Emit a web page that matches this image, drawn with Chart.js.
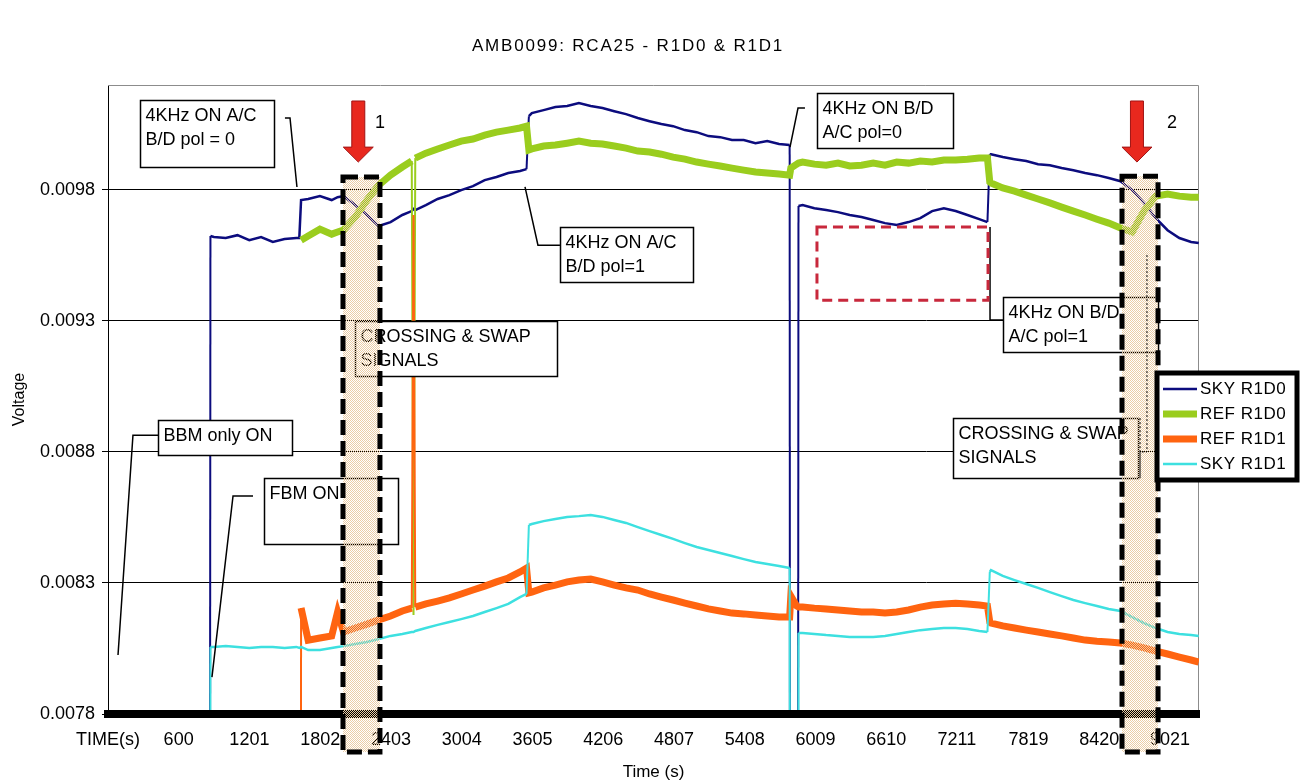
<!DOCTYPE html>
<html>
<head>
<meta charset="utf-8">
<title>AMB0099: RCA25 - R1D0 & R1D1</title>
<script src="https://cdn.jsdelivr.net/npm/chart.js@4.4.1/dist/chart.umd.min.js"></script>
<style>
  html, body { margin: 0; padding: 0; background: #fff; }
  #wrap { width: 1304px; height: 783px; }
</style>
</head>
<body>
<div id="wrap"><canvas id="myChart" width="1304" height="783"></canvas></div>
<script>
const chartTitle = "AMB0099: RCA25 - R1D0 & R1D1";
const FONT = '"Liberation Sans", Arial, sans-serif';

// time stamps (s)
const times = [
    0, 100, 200, 300, 400, 500, 600, 700, 800,
    855, 870,
    900, 1000, 1100, 1200, 1300, 1400, 1500, 1600,
    1625, 1640,
    1700, 1800, 1900, 1950,
    2000, 2100, 2200, 2300, 2400, 2500,
    2580, 2595, 2610,
    2700, 2800, 2900, 3000, 3100, 3200, 3300, 3400, 3500,
    3555, 3575,
    3600, 3700, 3800, 3900, 4000, 4100, 4200, 4300, 4400, 4500, 4600,
    4700, 4800, 4900, 5000, 5100, 5200, 5300, 5400, 5500, 5600, 5700,
    5790, 5800, 5850, 5865,
    5900, 6000, 6100, 6200, 6300, 6400, 6500, 6600, 6700, 6800, 6900, 7000, 7100, 7200, 7300, 7400,
    7470, 7490,
    7500, 7600, 7700, 7800, 7900, 8000, 8100, 8200, 8300,
    8400, 8500, 8600, 8700, 8800, 8900, 9000, 9100, 9200, 9265
];

const skyR1D0 = [
    0, 0, 0, 0, 0, 0, 0, 0, 0,
    0, 0.009624,
    0.009620, 0.009616, 0.009627, 0.009608, 0.009620, 0.009601, 0.009612, 0.009616,
    0.009616, 0.009761,
    0.009765, 0.009776, 0.009761, 0.009772,
    0.009776, 0.009742, 0.009704, 0.009662, 0.009677, 0.009704,
    0.009719, 0.009727, 0.009723,
    0.009742, 0.009765, 0.009780, 0.009799, 0.009814, 0.009837, 0.009849, 0.009864, 0.009872,
    0.009879, 0.010081,
    0.010093, 0.010104, 0.010116, 0.010120, 0.010131, 0.010120, 0.010112, 0.010100, 0.010089, 0.010074, 0.010062,
    0.010051, 0.010043, 0.010028, 0.010020, 0.010005, 0.010001, 0.009990, 0.009990, 0.009978, 0.009986, 0.009975,
    0.009971, 0, 0, 0.009738,
    0.009742, 0.009730, 0.009723, 0.009715, 0.009704, 0.009696, 0.009685, 0.009673, 0.009666, 0.009677, 0.009692, 0.009719, 0.009730, 0.009719, 0.009704, 0.009688,
    0.009677, 0.009936,
    0.009936, 0.009925, 0.009917, 0.009910, 0.009898, 0.009894, 0.009883, 0.009875, 0.009864,
    0.009856, 0.009845, 0.009833, 0.009799, 0.009750, 0.009692, 0.009646, 0.009616, 0.009601, 0.009597
];

const refR1D0 = [
    null, null, null, null, null, null, null, null, null,
    null, null,
    null, null, null, null, null, null, null, null,
    null, 0.009608,
    0.009624, 0.009650, 0.009631, 0.009639,
    0.009647, 0.009696, 0.009761, 0.009818, 0.009856, 0.009887,
    0.009910, 0.008178, 0.009921,
    0.009940, 0.009956, 0.009971, 0.009986, 0.009994, 0.010009, 0.010020, 0.010028, 0.010036,
    0.010043, 0.009952,
    0.009956, 0.009967, 0.009971, 0.009978, 0.009986, 0.009978, 0.009975, 0.009967, 0.009959, 0.009948, 0.009944,
    0.009936, 0.009925, 0.009917, 0.009906, 0.009898, 0.009891, 0.009883, 0.009875, 0.009868, 0.009864, 0.009860,
    0.009856, 0.009883, 0.009898, 0.009902,
    0.009906, 0.009898, 0.009894, 0.009902, 0.009891, 0.009894, 0.009902, 0.009894, 0.009906, 0.009902, 0.009910, 0.009906, 0.009914, 0.009914, 0.009917, 0.009921,
    0.009921, 0.009830,
    0.009826, 0.009807, 0.009795, 0.009780, 0.009765, 0.009750, 0.009734, 0.009719, 0.009704,
    0.009688, 0.009673, 0.009654, 0.009639, 0.009719, 0.009776, 0.009784, 0.009776, 0.009772, 0.009772
];

const refR1D1 = [
    0, 0, 0, 0, 0, 0, 0, 0, 0,
    0, 0,
    0, 0, 0, 0, 0, 0, 0, 0,
    0, 0.008204,
    0.008082, 0.008090, 0.008098, 0.008189,
    0.008113, 0.008128, 0.008143, 0.008159, 0.008174, 0.008193,
    0.008204, 0.009704, 0.008208,
    0.008220, 0.008231, 0.008243, 0.008258, 0.008273, 0.008288, 0.008304, 0.008319, 0.008342,
    0.008357, 0.008262,
    0.008265, 0.008281, 0.008292, 0.008304, 0.008311, 0.008315, 0.008304, 0.008292, 0.008281, 0.008273, 0.008258,
    0.008246, 0.008235, 0.008223, 0.008212, 0.008201, 0.008193, 0.008185, 0.008182, 0.008178, 0.008174, 0.008170,
    0.008170, 0.008250, 0.008212, 0.008208,
    0.008208, 0.008204, 0.008201, 0.008197, 0.008193, 0.008189, 0.008189, 0.008185, 0.008189, 0.008197, 0.008208, 0.008216, 0.008220, 0.008223, 0.008220, 0.008216,
    0.008212, 0.008151,
    0.008147, 0.008136, 0.008128, 0.008120, 0.008113, 0.008105, 0.008098, 0.008090, 0.008082,
    0.008078, 0.008075, 0.008071, 0.008063, 0.008052, 0.008040, 0.008029, 0.008017, 0.008006, 0.007998
];

const skyR1D1 = [
    0, 0, 0, 0, 0, 0, 0, 0, 0,
    0, 0.008056,
    0.008056, 0.008059, 0.008056, 0.008052, 0.008056, 0.008056, 0.008052, 0.008056,
    0.008052, 0.008056,
    0.008044, 0.008044, 0.008052, 0.008056,
    0.008059, 0.008067, 0.008075, 0.008086, 0.008098, 0.008105,
    0.008113, 0.008113, 0.008117,
    0.008128, 0.008140, 0.008151, 0.008162, 0.008174, 0.008189, 0.008204, 0.008220, 0.008246,
    0.008258, 0.008521,
    0.008525, 0.008536, 0.008544, 0.008552, 0.008555, 0.008559, 0.008552, 0.008540, 0.008529, 0.008513, 0.008498,
    0.008483, 0.008468, 0.008452, 0.008437, 0.008426, 0.008414, 0.008403, 0.008391, 0.008380, 0.008372, 0.008365,
    0.008357, 0, 0, 0.008109,
    0.008109, 0.008105, 0.008101, 0.008098, 0.008094, 0.008094, 0.008094, 0.008098, 0.008105, 0.008113, 0.008120, 0.008124, 0.008128, 0.008128, 0.008124, 0.008117,
    0.008113, 0.008342,
    0.008349, 0.008327, 0.008311, 0.008296, 0.008281, 0.008265, 0.008250, 0.008235, 0.008223,
    0.008212, 0.008201, 0.008193, 0.008170, 0.008147, 0.008128, 0.008113, 0.008105, 0.008101, 0.008098
];

const xTickValues = [0, 600, 1201, 1802, 2403, 3004, 3605, 4206, 4807, 5408, 6009, 6610, 7211, 7819, 8420, 9021];
const xTickLabels = ["TIME(s)", "600", "1201", "1802", "2403", "3004", "3605", "4206", "4807", "5408", "6009", "6610", "7211", "7819", "8420", "9021"];
const yTickValues = [0.0078, 0.0083, 0.0088, 0.0093, 0.0098];

// annotation boxes, in data units (time, voltage)
const calloutBoxes = [
    { text: ["4KHz ON A/C", "B/D pol = 0"], t0: 272, t1: 1410, v0: 0.010142, v1: 0.009887 },
    { text: ["4KHz ON A/C", "B/D pol=1"], t0: 3839, t1: 4969, v0: 0.009658, v1: 0.009448 },
    { text: ["4KHz ON B/D", "A/C pol=0"], t0: 6022, t1: 7177, v0: 0.010169, v1: 0.009959 },
    { text: ["4KHz ON B/D", "A/C pol=1"], t0: 7602, t1: 8919, v0: 0.009391, v1: 0.009181 },
    { text: ["CROSSING & SWAP", "SIGNALS"], t0: 2098, t1: 3814, v0: 0.009299, v1: 0.009090 },
    { text: ["CROSSING & SWAP", "SIGNALS"], t0: 7177, t1: 8749, v0: 0.008929, v1: 0.008700 },
    { text: ["BBM only ON"], t0: 425, t1: 1563, v0: 0.008922, v1: 0.008788 },
    { text: ["FBM ON"], t0: 1325, t1: 2463, v0: 0.008700, v1: 0.008449 }
];
const leaderLines = [
    [[1503, 0.010074], [1546, 0.010074], [1605, 0.009811]],
    [[3839, 0.009589], [3652, 0.009589], [3542, 0.009811]],
    [[5920, 0.010112], [5861, 0.010112], [5793, 0.009963]],
    [[7602, 0.009303], [7492, 0.009303], [7492, 0.009658]],
    [[425, 0.008864], [212, 0.008864], [85, 0.008025]],
    [[1232, 0.008632], [1062, 0.008632], [883, 0.007941]]
];
const dottedLeader = [[8766, 0.008929], [8766, 0.008700], [8766, 0.008800], [8825, 0.008800], [8825, 0.009559]];
const redBox = { t0: 6022, t1: 7475, v0: 0.009658, v1: 0.009379 };
const crossings = [
    { t0: 1996, t1: 2310, v0: 0.009849, v1: 0.007655 },
    { t0: 8613, t1: 8919, v0: 0.009852, v1: 0.007655 }
];
const arrows = [
    { t: 2126, label: "1", labelT: 2310 },
    { t: 8740, label: "2", labelT: 9038 }
];
const arrowTop = 0.010139, arrowNeck = 0.009963, arrowTip = 0.009906, arrowLabelV = 0.010055;

function pts(values) {
    return times.map((t, i) => ({ x: t, y: values[i] }));
}

// long vertical steps are drawn thin, like the original
const thinSteps = { borderWidth: c => Math.abs(c.p1.y - c.p0.y) > 40 ? 2 : undefined };

// checker pattern for the crossing zones
function checker() {
    const pc = document.createElement("canvas");
    pc.width = 2; pc.height = 2;
    const p = pc.getContext("2d");
    p.fillStyle = "#ebcda6";
    p.fillRect(0, 0, 1, 1);
    p.fillRect(1, 1, 1, 1);
    return pc;
}

const annotations = {
    id: "annotations",
    beforeDatasetsDraw(chart) {
        const { ctx, chartArea: a } = chart;
        ctx.save();
        ctx.strokeStyle = "#8c8c8c";
        ctx.lineWidth = 1;
        ctx.beginPath();
        ctx.moveTo(a.left, a.top + 0.5);
        ctx.lineTo(a.right - 0.5, a.top + 0.5);
        ctx.lineTo(a.right - 0.5, a.bottom);
        ctx.stroke();
        ctx.restore();
    },
    afterDraw(chart) {
        const ctx = chart.ctx;
        const px = t => chart.scales.x.getPixelForValue(t);
        const py = v => chart.scales.y.getPixelForValue(v);
        ctx.save();

        // leader lines
        ctx.strokeStyle = "#000";
        ctx.lineWidth = 1.5;
        leaderLines.forEach(line => {
            ctx.beginPath();
            line.forEach(([t, v], i) => i ? ctx.lineTo(px(t), py(v)) : ctx.moveTo(px(t), py(v)));
            ctx.stroke();
        });

        // callout boxes
        ctx.font = "18px " + FONT;
        ctx.textBaseline = "middle";
        ctx.textAlign = "left";
        calloutBoxes.forEach(b => {
            const x0 = Math.round(px(b.t0)) + 0.5, x1 = Math.round(px(b.t1)) + 0.5;
            const y0 = Math.round(py(b.v0)) + 0.5, y1 = Math.round(py(b.v1)) + 0.5;
            ctx.fillStyle = "#fff";
            ctx.fillRect(x0, y0, x1 - x0, y1 - y0);
            ctx.strokeStyle = "#000";
            ctx.lineWidth = 1.5;
            ctx.strokeRect(x0, y0, x1 - x0, y1 - y0);
            ctx.fillStyle = "#000";
            b.text.forEach((s, i) => ctx.fillText(s, x0 + 5, y0 + 16 + i * 24));
        });

        // red dashed box
        ctx.strokeStyle = "#c8283c";
        ctx.lineWidth = 3;
        ctx.setLineDash([10, 6]);
        ctx.strokeRect(px(redBox.t0), py(redBox.v0), px(redBox.t1) - px(redBox.t0), py(redBox.v1) - py(redBox.v0));

        // crossing zones
        const pattern = ctx.createPattern(checker(), "repeat");
        crossings.forEach(c => {
            const x0 = px(c.t0), x1 = px(c.t1), y0 = py(c.v0), y1 = py(c.v1);
            ctx.fillStyle = pattern;
            ctx.fillRect(x0, y0, x1 - x0, y1 - y0);
            ctx.strokeStyle = "#000";
            ctx.lineWidth = 5;
            ctx.setLineDash([15, 6]);
            ctx.strokeRect(x0, y0, x1 - x0, y1 - y0);
        });

        ctx.setLineDash([2, 2]);
        ctx.lineWidth = 1;
        ctx.beginPath();
        dottedLeader.forEach(([t, v], i) => i ? ctx.lineTo(px(t), py(v)) : ctx.moveTo(px(t), py(v)));
        ctx.stroke();
        ctx.setLineDash([]);

        // red arrows
        arrows.forEach(ar => {
            const cx = px(ar.t), top = py(arrowTop), neck = py(arrowNeck), tip = py(arrowTip);
            ctx.beginPath();
            ctx.moveTo(cx - 6.5, top);
            ctx.lineTo(cx + 6.5, top);
            ctx.lineTo(cx + 6.5, neck);
            ctx.lineTo(cx + 15, neck);
            ctx.lineTo(cx, tip);
            ctx.lineTo(cx - 15, neck);
            ctx.lineTo(cx - 6.5, neck);
            ctx.closePath();
            ctx.fillStyle = "#e8281e";
            ctx.fill();
            ctx.strokeStyle = "#a01414";
            ctx.lineWidth = 1;
            ctx.stroke();
            ctx.fillStyle = "#000";
            ctx.font = "18px " + FONT;
            ctx.textAlign = "center";
            ctx.fillText(ar.label, px(ar.labelT), py(arrowLabelV));
        });

        // legend
        const lx = 1157, ly = 373, lw = 140, lh = 107;
        ctx.fillStyle = "#fff";
        ctx.fillRect(lx, ly, lw, lh);
        ctx.strokeStyle = "#000";
        ctx.lineWidth = 5;
        ctx.strokeRect(lx, ly, lw, lh);
        ctx.textAlign = "left";
        ctx.font = "17px " + FONT;
        ctx.letterSpacing = "0.5px";
        chart.data.datasets.forEach((ds, i) => {
            const y = ly + 16 + i * 25;
            ctx.strokeStyle = ds.borderColor;
            ctx.lineWidth = ds.borderWidth;
            ctx.beginPath();
            ctx.moveTo(lx + 6, y);
            ctx.lineTo(lx + 40, y);
            ctx.stroke();
            ctx.fillStyle = "#000";
            ctx.fillText(ds.label, lx + 43, y);
        });

        // chart title
        ctx.font = "17px " + FONT;
        ctx.textAlign = "center";
        ctx.letterSpacing = "1.8px";
        ctx.fillText(chartTitle, 628, 46);
        ctx.restore();
    }
};

const ctx = document.getElementById("myChart").getContext("2d");
new Chart(ctx, {
    type: "line",
    data: {
        datasets: [
            { label: "SKY R1D0", data: pts(skyR1D0), borderColor: "#0c0c7e", borderWidth: 2.5, order: 3, segment: thinSteps },
            { label: "REF R1D0", data: pts(refR1D0), borderColor: "#9acd1e", borderWidth: 7, order: 2, segment: thinSteps },
            { label: "REF R1D1", data: pts(refR1D1), borderColor: "#ff6410", borderWidth: 7, order: 1, segment: thinSteps },
            { label: "SKY R1D1", data: pts(skyR1D1), borderColor: "#3de0e0", borderWidth: 2.5, order: 0, segment: thinSteps }
        ]
    },
    options: {
        responsive: false,
        animation: false,
        devicePixelRatio: 1,
        layout: { padding: { left: 0, right: 105, top: 85, bottom: 0 } },
        elements: { point: { radius: 0 }, line: { tension: 0 } },
        plugins: { legend: { display: false }, tooltip: { enabled: false } },
        scales: {
            x: {
                type: "linear",
                min: 0,
                max: 9267,
                afterFit: s => { s.height = 69; },
                afterBuildTicks: s => { s.ticks = xTickValues.map(v => ({ value: v })); },
                grid: { display: false, drawTicks: false },
                border: { display: true, color: "#000", width: 8, z: 1 },
                ticks: {
                    autoSkip: false, maxRotation: 0, minRotation: 0, padding: 15,
                    color: "#000", font: { family: FONT, size: 18 },
                    callback: (v, i) => xTickLabels[i]
                },
                title: { display: true, text: "Time (s)", color: "#000", font: { family: FONT, size: 17 }, padding: { top: 0, bottom: 0 } }
            },
            y: {
                min: 0.0078,
                max: 0.0102,
                afterFit: s => { s.width = 108; },
                afterBuildTicks: s => { s.ticks = yTickValues.map(v => ({ value: v })); },
                grid: { color: "#000", lineWidth: 1, tickLength: 6 },
                border: { display: true, color: "#000", width: 1 },
                ticks: {
                    padding: 7, color: "#000", font: { family: FONT, size: 18 },
                    callback: v => v.toFixed(4)
                },
                title: { display: true, text: "Voltage", color: "#000", font: { family: FONT, size: 16 }, padding: { top: 10, bottom: 0 } }
            }
        }
    },
    plugins: [annotations]
});
</script>
</body>
</html>
